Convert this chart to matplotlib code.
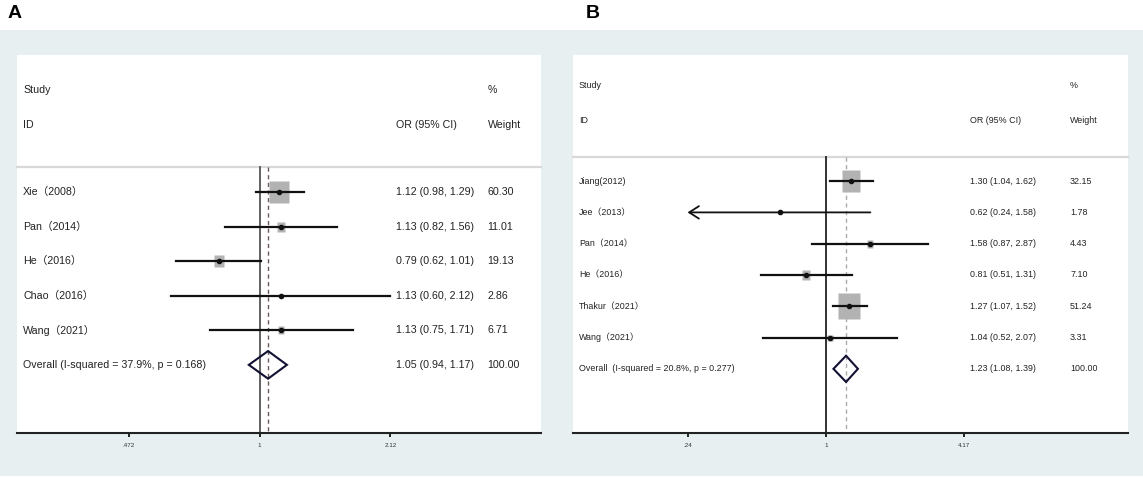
import numpy as np
import matplotlib
matplotlib.use("Agg")
import matplotlib.pyplot as plt
from matplotlib.patches import Rectangle, Polygon

plt.rcParams['font.family'] = ['Liberation Sans', 'Noto Sans CJK SC', 'DejaVu Sans']

# Panel A data
a_studies = ["Xie\uff082008\uff09", "Pan\uff082014\uff09", "He\uff082016\uff09", "Chao\uff082016\uff09", "Wang\uff082021\uff09"]
a_or = [1.12, 1.13, 0.79, 1.13, 1.13]
a_lo = [0.98, 0.82, 0.62, 0.60, 0.75]
a_hi = [1.29, 1.56, 1.01, 2.12, 1.71]
a_weight = [60.30, 11.01, 19.13, 2.86, 6.71]
a_overall = (1.05, 0.94, 1.17)
a_overall_label = "Overall (I-squared = 37.9%, p = 0.168)"
a_ticks = [0.472, 1, 2.12]
a_ticklabels = [".472", "1", "2.12"]

# Panel B data
b_studies = ["Jiang(2012)", "Jee\uff082013\uff09", "Pan\uff082014\uff09", "He\uff082016\uff09", "Thakur\uff082021\uff09", "Wang\uff082021\uff09"]
b_or = [1.30, 0.62, 1.58, 0.81, 1.27, 1.04]
b_lo = [1.04, 0.24, 0.87, 0.51, 1.07, 0.52]
b_hi = [1.62, 1.58, 2.87, 1.31, 1.52, 2.07]
b_weight = [32.15, 1.78, 4.43, 7.10, 51.24, 3.31]
b_overall = (1.23, 1.08, 1.39)
b_overall_label = "Overall  (I-squared = 20.8%, p = 0.277)"
b_ticks = [0.24, 1, 4.17]
b_ticklabels = [".24", "1", "4.17"]

fig = plt.figure(figsize=(11.43, 4.79), dpi=100)
fig.patch.set_facecolor("white")
# light background band behind both panels
fig.add_artist(Rectangle((0, 3 / 479), 1, 446 / 479, transform=fig.transFigure,
                         facecolor="#e7eff0", edgecolor="none", zorder=0))

fig.text(8 / 1143, 1 - 14 / 479, "A", fontsize=14, fontweight="bold", va="center")
fig.text(586 / 1143, 1 - 14 / 479, "B", fontsize=14, fontweight="bold", va="center")


def forest(ax, studies, ors, los, his, weights, overall, overall_label,
           ticks, ticklabels, xlim, ylim, ystudy, yid, yline, cols, fs,
           wscale, nullcolor, dashcolor, diam_h):
    ax.set_facecolor("white")
    ax.set_xscale("log")
    ax.set_xlim(*xlim)
    ax.set_ylim(*ylim)
    for s in ["top", "right", "left"]:
        ax.spines[s].set_visible(False)
    ax.spines["bottom"].set_linewidth(1.5)
    ax.spines["bottom"].set_color("#222222")
    ax.set_yticks([])
    ax.set_xticks(ticks)
    ax.set_xticklabels(ticklabels, fontsize=4.5, color="#333333")
    ax.minorticks_off()
    ax.tick_params(axis="x", direction="out", length=3, width=1.2, pad=4)

    tr = ax.get_yaxis_transform()
    n = len(studies)
    rows = np.arange(n)

    # header
    ax.text(cols[0], ystudy, "Study", transform=tr, fontsize=fs, va="center", color="#222222")
    ax.text(cols[0], yid, "ID", transform=tr, fontsize=fs, va="center", color="#222222")
    ax.text(cols[1], yid, "OR (95% CI)", transform=tr, fontsize=fs, va="center", color="#222222")
    ax.text(cols[2], ystudy, "%", transform=tr, fontsize=fs, va="center", color="#222222")
    ax.text(cols[2], yid, "Weight", transform=tr, fontsize=fs, va="center", color="#222222")
    ax.plot([0, 1], [yline, yline], transform=tr, color="#d8d8d8", lw=1.6, clip_on=False)

    # null line and overall dashed line
    ax.plot([1, 1], [yline, ylim[0]], color=nullcolor, lw=1.3, zorder=2)
    ax.plot([overall[0]] * 2, [yline, ylim[0]], color=dashcolor, lw=1.0,
            ls=(0, (3, 2.5)), zorder=2)

    rect = [(-0.42, -0.5), (0.42, -0.5), (0.42, 0.5), (-0.42, 0.5), (-0.42, -0.5)]
    for i in rows:
        side = wscale * np.sqrt(weights[i])
        ax.plot(ors[i], i, marker=rect, ms=side, color="#b2b2b2", mec="none", zorder=3)
        if los[i] <= ticks[0]:
            # CI runs past the lowest tick: draw an open arrow
            ax.annotate("", xy=(ticks[0], i), xytext=(his[i], i),
                        arrowprops=dict(arrowstyle="->,head_length=0.7,head_width=0.45",
                                        lw=1.3, color="#111111", shrinkA=0, shrinkB=0),
                        zorder=4)
        else:
            ax.plot([los[i], his[i]], [i, i], color="#111111", lw=1.6, zorder=4)
        ax.plot(ors[i], i, marker="o", ms=3, color="#111111", zorder=5)
        ax.text(cols[0], i, studies[i], transform=tr, fontsize=fs, va="center", color="#222222")
        ax.text(cols[1], i, f"{ors[i]:.2f} ({los[i]:.2f}, {his[i]:.2f})", transform=tr,
                fontsize=fs, va="center", color="#222222")
        ax.text(cols[2], i, f"{weights[i]:.2f}", transform=tr, fontsize=fs,
                va="center", color="#222222")

    yo = n
    est, lo, hi = overall
    ax.add_patch(Polygon([(lo, yo), (est, yo - diam_h), (hi, yo), (est, yo + diam_h)],
                         closed=True, fill=False, edgecolor="#111133", lw=1.5, zorder=4))
    ax.text(cols[0], yo, overall_label, transform=tr, fontsize=fs, va="center", color="#222222")
    ax.text(cols[1], yo, f"{est:.2f} ({lo:.2f}, {hi:.2f})", transform=tr, fontsize=fs,
            va="center", color="#222222")
    ax.text(cols[2], yo, "100.00", transform=tr, fontsize=fs, va="center", color="#222222")


axA = fig.add_axes([17 / 1143, 46 / 479, 524 / 1143, 378 / 479])
forest(axA, a_studies, a_or, a_lo, a_hi, a_weight, a_overall, a_overall_label,
       a_ticks, a_ticklabels, xlim=(0.248, 5.04), ylim=(6.97, -3.96),
       ystudy=-2.95, yid=-1.95, yline=-0.72, cols=(0.0115, 0.723, 0.898), fs=7.7,
       wscale=2.45 * 0.72 * 1.2, nullcolor="#555555", dashcolor="#6a5a5a", diam_h=0.4)

axB = fig.add_axes([573 / 1143, 46 / 479, 555 / 1143, 378 / 479])
forest(axB, b_studies, b_or, b_lo, b_hi, b_weight, b_overall, b_overall_label,
       b_ticks, b_ticklabels, xlim=(0.0737, 22.5), ylim=(8.05, -4.03),
       ystudy=-3.07, yid=-1.95, yline=-0.77, cols=(0.0108, 0.716, 0.8955), fs=6.4,
       wscale=3.4 * 0.72 * 1.1, nullcolor="#222222", dashcolor="#aaaaaa", diam_h=0.42)

fig.savefig("out.png", dpi=100, facecolor=fig.get_facecolor())
